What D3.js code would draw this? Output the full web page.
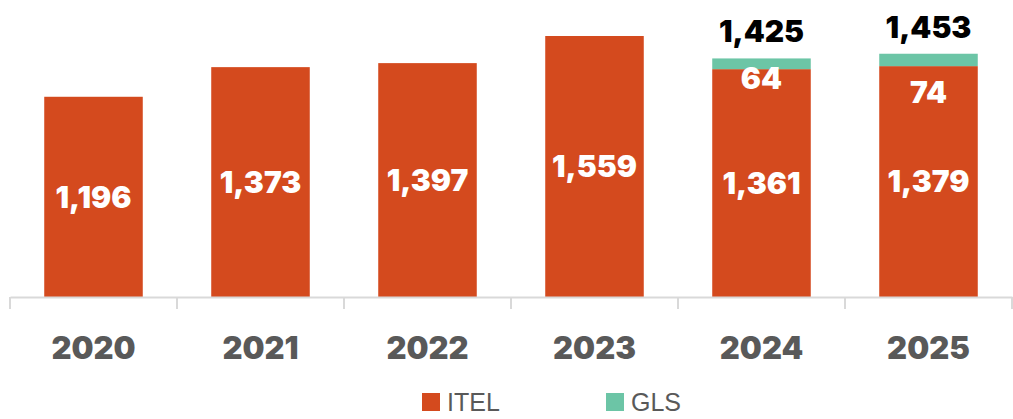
<!DOCTYPE html>
<html><head><meta charset="utf-8">
<script src="https://cdn.jsdelivr.net/npm/d3@7"></script>
<style>body{margin:0;background:#fff}svg{display:block}</style>
</head><body>
<svg id="c" width="1013" height="419"></svg>
<script>
const years = ["2020","2021","2022","2023","2024","2025"];
const itel = [1196,1373,1397,1559,1361,1379];
const gls = [0,0,0,0,64,74];
const totals = [null,null,null,null,1425,1453];
const seriesNames = ["ITEL","GLS"];
const colors = {ITEL:"#D44A1E", GLS:"#6CC5A6"};

const svg = d3.select("#c");
const x = d3.scaleBand().domain(years).range([10,1012]).paddingInner(0.41).paddingOuter(0.205);
const band = d3.scaleBand().domain(years).range([10,1012]);
const y = d3.scaleLinear().domain([0,1559]).range([297,36]);
const labelFont = "Inter, 'Open Sans', sans-serif";

// bars
years.forEach((yr,i)=>{
  svg.append("rect").attr("x",x(yr)).attr("width",x.bandwidth())
    .attr("y",y(itel[i])).attr("height",y(0)-y(itel[i])).attr("fill",colors.ITEL);
  if(gls[i]>0){
    svg.append("rect").attr("x",x(yr)).attr("width",x.bandwidth())
      .attr("y",y(itel[i]+gls[i])).attr("height",y(itel[i])-y(itel[i]+gls[i])).attr("fill",colors.GLS);
  }
});

// axis
const axis = d3.axisBottom(band).tickSize(0).tickFormat("");
const gA = svg.append("g").attr("transform","translate(0,297)").call(axis);
gA.select(".domain").attr("stroke","#d9d9d9").attr("stroke-width",2);
const edges = years.map(yr=>band(yr)).concat([band(years[years.length-1])+band.bandwidth()]);
svg.selectAll(".tk").data(edges).join("line").attr("x1",d=>d).attr("x2",d=>d)
  .attr("y1",297).attr("y2",309).attr("stroke","#d9d9d9").attr("stroke-width",2);
svg.selectAll(".yr").data(years).join("text")
  .attr("x",d=>band(d)+band.bandwidth()/2).attr("y",359)
  .attr("text-anchor","middle").attr("font-family",labelFont).attr("font-weight",900)
  .attr("font-size",31).attr("fill","#595959").text(d=>d);

// labels
const fmt = d3.format(",");
years.forEach((yr,i)=>{
  const cx = x(yr)+x.bandwidth()/2;
  const mid = (y(itel[i])+y(0))/2;
  svg.append("text").attr("x",cx).attr("y",mid).attr("dy","0.36em")
    .attr("text-anchor","middle").attr("font-family",labelFont).attr("font-weight",900)
    .attr("font-size",30).attr("fill","#fff").text(fmt(itel[i]));
});
const glsDy = [0,0,0,0,20,38];
years.forEach((yr,i)=>{
  if(gls[i]>0){
    const cx = x(yr)+x.bandwidth()/2;
    svg.append("text").attr("x",cx).attr("y",y(itel[i]+gls[i])+glsDy[i]).attr("dy","0.36em")
      .attr("text-anchor","middle").attr("font-family",labelFont).attr("font-weight",900)
      .attr("font-size",30).attr("fill","#fff").text(fmt(gls[i]));
  }
  if(totals[i]!=null){
    const cx = x(yr)+x.bandwidth()/2;
    svg.append("text").attr("x",cx).attr("y",y(itel[i]+gls[i])-27).attr("dy","0.36em")
      .attr("text-anchor","middle").attr("font-family",labelFont).attr("font-weight",900)
      .attr("font-size",30).attr("fill","#000").text(fmt(totals[i]));
  }
});

// legend
const lg = svg.append("g");
const lx = [422,606];
seriesNames.forEach((s,i)=>{
  lg.append("rect").attr("x",lx[i]).attr("y",393).attr("width",18).attr("height",18).attr("fill",colors[s]);
  lg.append("text").attr("x",lx[i]+25).attr("y",411).attr("font-family","'Liberation Sans', Arial, sans-serif")
    .attr("font-size",25).attr("fill","#595959").text(s);
});
</script>
</body></html>
